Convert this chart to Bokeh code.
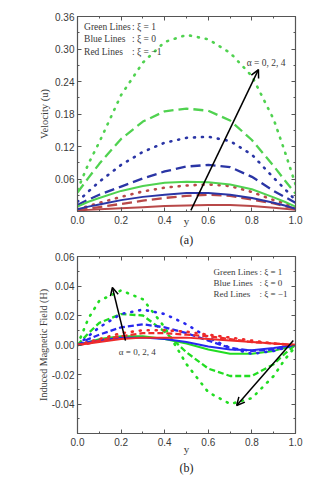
from bokeh.plotting import figure
from bokeh.models import Range1d, LinearAxis, FixedTicker, PrintfTickFormatter, Label, Arrow, OpenHead, Title
from bokeh.layouts import column
from bokeh.embed import file_html
from bokeh.resources import INLINE

# ---------------- data ----------------
y_pos = [0.0, 0.05, 0.1, 0.2, 0.3, 0.4, 0.5, 0.6, 0.7, 0.8, 0.9, 0.95, 1.0]

# (a) velocity u ; solid: alpha=0, dashed: alpha=2, dotted: alpha=4
u_green_a0 = [0.009, 0.018, 0.025, 0.038, 0.047, 0.053, 0.055, 0.054, 0.050, 0.041, 0.026, 0.018, 0.009]
u_green_a2 = [0.035, 0.062, 0.088, 0.134, 0.166, 0.185, 0.190, 0.186, 0.168, 0.132, 0.084, 0.058, 0.033]
u_green_a4 = [0.040, 0.088, 0.128, 0.215, 0.275, 0.313, 0.326, 0.318, 0.293, 0.250, 0.170, 0.112, 0.050]
u_blue_a0 = [0.004, 0.009, 0.013, 0.021, 0.027, 0.031, 0.034, 0.034, 0.031, 0.025, 0.016, 0.011, 0.005]
u_blue_a2 = [0.012, 0.022, 0.031, 0.046, 0.061, 0.074, 0.083, 0.086, 0.082, 0.064, 0.038, 0.027, 0.016]
u_blue_a4 = [0.018, 0.037, 0.055, 0.086, 0.110, 0.127, 0.136, 0.138, 0.130, 0.105, 0.062, 0.042, 0.021]
u_red_a0 = [0.002, 0.003, 0.004, 0.006, 0.008, 0.010, 0.011, 0.012, 0.012, 0.010, 0.007, 0.005, 0.003]
u_red_a2 = [0.003, 0.005, 0.008, 0.014, 0.020, 0.025, 0.029, 0.031, 0.029, 0.022, 0.015, 0.010, 0.005]
u_red_a4 = [0.004, 0.010, 0.016, 0.027, 0.037, 0.044, 0.048, 0.050, 0.047, 0.036, 0.021, 0.015, 0.008]

# (b) induced magnetic field H
h_green_a0 = [0.0, 0.002, 0.004, 0.006, 0.006, 0.004, 0.001, -0.003, -0.006, -0.006, -0.004, -0.002, 0.0]
h_green_a2 = [0.0, 0.008, 0.015, 0.021, 0.020, 0.009, -0.005, -0.016, -0.021, -0.021, -0.013, -0.006, 0.0]
h_green_a4 = [0.0, 0.018, 0.030, 0.037, 0.031, 0.012, -0.013, -0.032, -0.040, -0.036, -0.021, -0.010, -0.001]
h_blue_a0 = [0.0, 0.002, 0.003, 0.005, 0.005, 0.004, 0.002, -0.001, -0.003, -0.0035, -0.002, -0.001, 0.0]
h_blue_a2 = [0.0, 0.004, 0.007, 0.012, 0.014, 0.012, 0.008, 0.003, -0.002, -0.004, -0.003, -0.001, 0.0]
h_blue_a4 = [0.0, 0.006, 0.012, 0.021, 0.024, 0.021, 0.014, 0.005, -0.002, -0.006, -0.004, -0.002, 0.0]
h_red_a0 = [0.0, 0.001, 0.002, 0.004, 0.005, 0.005, 0.005, 0.004, 0.003, 0.002, 0.001, 0.0005, 0.0]
h_red_a2 = [0.0, 0.001, 0.003, 0.006, 0.008, 0.008, 0.007, 0.006, 0.004, 0.002, 0.001, 0.0005, 0.0]
h_red_a4 = [0.0, 0.002, 0.004, 0.008, 0.010, 0.010, 0.009, 0.007, 0.005, 0.003, 0.001, 0.0005, 0.0]

x_ticks = [0.0, 0.2, 0.4, 0.6, 0.8, 1.0]
x_minor = [0.1, 0.3, 0.5, 0.7, 0.9]
u_ticks = [0.06, 0.12, 0.18, 0.24, 0.30, 0.36]
u_minor = [0.03, 0.09, 0.15, 0.21, 0.27, 0.33]
h_ticks = [-0.04, -0.02, 0.0, 0.02, 0.04, 0.06]
h_minor = [-0.05, -0.03, -0.01, 0.01, 0.03, 0.05]

legend_names = ["Green Lines", "Blue Lines", "Red Lines"]
legend_vals = [": \u03be = 1", ": \u03be = 0", ": \u03be = \u22121"]
alpha_text = "\u03b1 = 0, 2, 4"

# ---------------- style ----------------
SERIF = "Liberation Serif"
SANS = "Liberation Sans"
TXT = "#3a3a3a"
AX = "#555555"


def style_axis(ax, standoff, show):
    ax.axis_line_color = AX
    ax.major_tick_in = 4
    ax.major_tick_out = 0
    ax.minor_tick_in = 2
    ax.minor_tick_out = 0
    ax.major_tick_line_color = AX
    ax.minor_tick_line_color = AX
    ax.major_label_text_font = SANS
    ax.major_label_text_color = TXT
    if show:
        ax.major_label_text_font_size = "10px"
        ax.major_label_standoff = standoff
    else:
        ax.major_label_text_font_size = "0px"
        ax.major_label_text_color = None
        ax.major_label_standoff = 0
    ax.axis_label_text_font = SERIF
    ax.axis_label_text_font_style = "normal"
    ax.axis_label_text_color = TXT


def make_fig(w, h, yr, yt, ym, mb, xlab, xlab_standoff, ylab, ylab_standoff, ylab_size):
    p = figure(width=w, height=h, x_range=Range1d(0, 1), y_range=Range1d(*yr),
               output_backend="svg", toolbar_location=None,
               min_border_left=mb[0], min_border_right=mb[1],
               min_border_top=mb[2], min_border_bottom=mb[3],
               x_axis_location=None, y_axis_location=None)
    p.xgrid.visible = False
    p.ygrid.visible = False
    p.outline_line_color = AX
    p.outline_line_width = 1.2
    p.background_fill_color = "white"
    p.border_fill_color = "white"
    xtk = FixedTicker(ticks=x_ticks, minor_ticks=x_minor)
    ytk = FixedTicker(ticks=yt, minor_ticks=ym)

    xb = LinearAxis(ticker=xtk, formatter=PrintfTickFormatter(format="%.1f"))
    style_axis(xb, 4, True)
    xb.axis_label = xlab
    xb.axis_label_text_font_size = "11px"
    xb.axis_label_standoff = xlab_standoff
    p.add_layout(xb, "below")

    xa = LinearAxis(ticker=xtk, formatter=PrintfTickFormatter(format="%.1f"))
    style_axis(xa, 0, False)
    p.add_layout(xa, "above")

    yl = LinearAxis(ticker=ytk, formatter=PrintfTickFormatter(format="%.2f"))
    style_axis(yl, 3, True)
    yl.axis_label = ylab
    yl.axis_label_text_font_size = ylab_size
    yl.axis_label_standoff = ylab_standoff
    p.add_layout(yl, "left")

    yr_ax = LinearAxis(ticker=ytk, formatter=PrintfTickFormatter(format="%.2f"))
    style_axis(yr_ax, 0, False)
    p.add_layout(yr_ax, "right")
    return p


def lbl(p, x, y, text, size, align="left"):
    p.add_layout(Label(x=x, y=y, text=text, text_font=SERIF, text_font_size=size,
                       text_color=TXT, text_align=align, text_baseline="middle"))


def caption(p, text, offset, standoff):
    t = Title(text=text, align="center", offset=offset, standoff=standoff,
              text_font=SERIF, text_font_size="12px", text_font_style="normal",
              text_color="#222222")
    p.add_layout(t, "below")


def series(p, ys, color, style, w, dash):
    if style == "solid":
        p.line(y_pos, ys, line_color=color, line_width=w)
    elif style == "dashed":
        p.line(y_pos, ys, line_color=color, line_width=w + 0.3, line_dash=dash)
    else:
        p.line(y_pos, ys, line_color=color, line_width=w + 0.6, line_dash="1 7",
               line_cap="round")


# ---------------- (a) ----------------
p1 = make_fig(325, 248, (0, 0.36), u_ticks, u_minor, (65, 19, 16, 36),
              "y", -12, "Velocity (u)", 2, "10.5px")
caption(p1, "(a)", -22, 3)
GA, BA, RA = "#50d250", "#2a35a5", "#b84848"
DA = "10 5"
for ys, c, s in [(u_red_a0, RA, "solid"), (u_red_a2, RA, "dashed"), (u_red_a4, RA, "dotted"),
                 (u_blue_a0, BA, "solid"), (u_blue_a2, BA, "dashed"), (u_blue_a4, BA, "dotted"),
                 (u_green_a0, GA, "solid"), (u_green_a2, GA, "dashed"), (u_green_a4, GA, "dotted")]:
    series(p1, ys, c, s, 2.0, DA)

p1.add_layout(Arrow(x_start=0.52, y_start=0.002, x_end=0.83, y_end=0.262,
                    line_color="black", line_width=1.5,
                    end=OpenHead(size=8, line_width=1.5, line_color="black")))
lbl(p1, 0.865, 0.275, alpha_text, "9.5px", align="center")
for i, yy in enumerate([0.340, 0.318, 0.294]):
    lbl(p1, 0.03, yy, legend_names[i], "9.5px")
    lbl(p1, 0.25, yy, legend_vals[i], "9.5px")

# ---------------- (b) ----------------
p2 = make_fig(325, 231, (-0.06, 0.06), h_ticks, h_minor, (77, 30, 8, 46),
              "y", -6, "Induced Magnetic Field (H)", 0, "10px")
caption(p2, "(b)", -24, 2)
GB, BB, RB = "#22dd22", "#2828ee", "#ee2a2a"
DB = "6 3"
for ys, c, s in [(h_green_a0, GB, "solid"), (h_green_a2, GB, "dashed"), (h_green_a4, GB, "dotted"),
                 (h_blue_a0, BB, "solid"), (h_blue_a2, BB, "dashed"), (h_blue_a4, BB, "dotted"),
                 (h_red_a0, RB, "solid"), (h_red_a2, RB, "dashed"), (h_red_a4, RB, "dotted")]:
    series(p2, ys, c, s, 2.0, DB)

p2.add_layout(Arrow(x_start=0.22, y_start=0.003, x_end=0.16, y_end=0.039,
                    line_color="black", line_width=1.5,
                    end=OpenHead(size=8, line_width=1.5, line_color="black")))
p2.add_layout(Arrow(x_start=0.99, y_start=0.003, x_end=0.73, y_end=-0.041,
                    line_color="black", line_width=1.5,
                    end=OpenHead(size=8, line_width=1.5, line_color="black")))
lbl(p2, 0.274, -0.0047, alpha_text, "9px", align="center")
for i, yy in enumerate([0.0493, 0.0419, 0.0343]):
    lbl(p2, 0.624, yy, legend_names[i], "9px")
    lbl(p2, 0.835, yy, legend_vals[i], "9px")

layout = column(p1, p2, spacing=0)
open("out.html", "w").write(file_html(layout, INLINE))
